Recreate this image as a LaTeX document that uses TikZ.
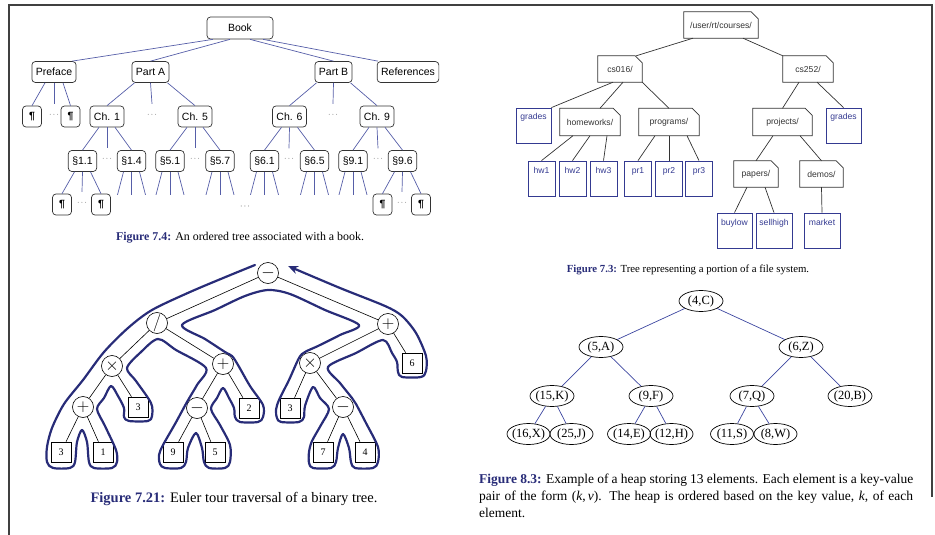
\documentclass[tikz,border=0pt]{standalone}
\usepackage{fontspec}
\setmainfont{Liberation Serif}
\setsansfont{Liberation Sans}
\usetikzlibrary{shapes.geometric,arrows.meta}

\definecolor{navy}{RGB}{40,44,120}
\definecolor{edgeblue}{RGB}{86,94,168}
\definecolor{filecol}{RGB}{52,58,145}
\definecolor{heapblue}{RGB}{60,70,160}

\newcommand{\figtag}[1]{{\bfseries\color{navy}Figure~#1:}}

\tikzset{
  bbox/.style={draw=black!80, rounded corners=3.5pt, line width=0.7pt, minimum height=21pt,
    inner xsep=4pt, font=\fontsize{10.5}{12}\sffamily},
  pil/.style={bbox, minimum width=19pt, font=\fontsize{10.5}{12}\sffamily\bfseries},
  ddots/.style={inner sep=0pt, minimum height=21pt, font=\fontsize{7}{8}\selectfont},
  bedge/.style={edgeblue, line width=0.7pt},
  dirbox/.style={minimum height=26pt, inner xsep=4pt, font=\fontsize{8.6}{10}\sffamily, text=black!80},
  filebox/.style={draw=filecol, line width=0.8pt, text=filecol, font=\fontsize{8.6}{10}\sffamily,
    minimum width=27pt, inner xsep=1pt, inner ysep=3pt, text height=9pt, text depth=20pt},
  fsedge/.style={black!80, line width=0.7pt},
  op/.style={circle, draw, line width=0.6pt, minimum size=21pt, inner sep=0pt, font=\fontsize{16}{18}\selectfont},
  leaf/.style={draw, line width=0.6pt, minimum size=20pt, inner sep=0pt, font=\fontsize{10}{12}\selectfont},
  tedge/.style={line width=0.6pt},
  tour/.style={navy, line width=2.2pt, line join=round, line cap=round},
  hp/.style={ellipse, draw, line width=0.7pt, minimum width=44pt, minimum height=21pt, inner sep=-2pt,
    font=\fontsize{12.5}{14}\selectfont},
  hedge/.style={heapblue, line width=0.7pt},
  caption/.style={inner sep=0pt, anchor=base}
}

\begin{document}
\begin{tikzpicture}[x=1pt,y=-1pt]
\useasboundingbox (0,0) rectangle (935,535);

% frame
\draw[line width=1.3pt, black!75] (9,535) -- (9,5) -- (932,5) -- (932,497);

% ordered tree of a book
\node[bbox, minimum width=66pt, minimum height=22pt] (book) at (240,28) {Book};
\node[bbox] (pref) at (54,72) {Preface};
\node[bbox] (pa) at (150.5,72) {Part A};
\node[bbox] (pb) at (333.5,72) {Part B};
\node[bbox] (refs) at (408,72) {References};

\node[pil] (p1) at (32,116.5) {¶};
\node[ddots] (dp) at (54,114.5) {$\cdots$};
\node[pil] (p2) at (70.5,116.5) {¶};
\node[bbox] (c1) at (107,116.5) {Ch. 1};
\node[ddots] (da) at (152,114.5) {$\cdots$};
\node[bbox] (c5) at (195,116.5) {Ch. 5};
\node[bbox] (c6) at (289.5,116.5) {Ch. 6};
\node[ddots] (db) at (333,114.5) {$\cdots$};
\node[bbox] (c9) at (377,116.5) {Ch. 9};

\node[bbox] (s11) at (82.5,161) {§1.1};
\node[ddots] (d1) at (107,159) {$\cdots$};
\node[bbox] (s14) at (131.5,161) {§1.4};
\node[bbox] (s51) at (170,161) {§5.1};
\node[ddots] (d5) at (195,159) {$\cdots$};
\node[bbox] (s57) at (220,161) {§5.7};
\node[bbox] (s61) at (264.5,161) {§6.1};
\node[ddots] (d6) at (289,159) {$\cdots$};
\node[bbox] (s65) at (314.5,161) {§6.5};
\node[bbox] (s91) at (353,161) {§9.1};
\node[ddots] (d9) at (378,159) {$\cdots$};
\node[bbox] (s96) at (402.5,161) {§9.6};

\node[pil] (q1) at (62,204.5) {¶};
\node[ddots] (dq1) at (82,202.5) {$\cdots$};
\node[pil] (q2) at (101,204.5) {¶};
\node[pil] (q3) at (382.5,204.5) {¶};
\node[ddots] (dq2) at (402,202.5) {$\cdots$};
\node[pil] (q4) at (421,204.5) {¶};
\node[ddots, font=\fontsize{8}{9}\selectfont] (dbig) at (245,207) {$\cdots$};

\draw[bedge] ([xshift=-27pt]book.south) -- ([xshift=18pt]pref.north);
\draw[bedge] ([xshift=-10pt]book.south) -- (pa.north);
\draw[bedge] ([xshift=10pt]book.south) -- (pb.north);
\draw[bedge] ([xshift=23pt]book.south) -- ([xshift=-30pt]refs.north);

\draw[bedge] ([xshift=-9pt]pref.south) -- (p1.north);
\draw[bedge] (pref.south) -- (dp.north);
\draw[bedge] ([xshift=9pt]pref.south) -- (p2.north);
\draw[bedge] ([xshift=-16pt]pa.south) -- (c1.north);
\draw[bedge] (pa.south) -- (da.north);
\draw[bedge] ([xshift=17pt]pa.south) -- (c5.north);
\draw[bedge] ([xshift=-17pt]pb.south) -- (c6.north);
\draw[bedge] (pb.south) -- (db.north);
\draw[bedge] ([xshift=17pt]pb.south) -- (c9.north);

\foreach \a/\l/\m/\r in {c1/s11/d1/s14, c5/s51/d5/s57, c6/s61/d6/s65, c9/s91/d9/s96, s11/q1/dq1/q2, s96/q3/dq2/q4}{
  \draw[bedge] ([xshift=-8pt]\a.south) -- (\l.north);
  \draw[bedge] (\a.south) -- (\m.north);
  \draw[bedge] ([xshift=8pt]\a.south) -- (\r.north);
}
\foreach \n in {s14,s51,s57,s61,s65,s91}{
  \draw[bedge] ([xshift=-8pt]\n.south) -- ++(-6,23);
  \draw[bedge] (\n.south) -- ++(0,23);
  \draw[bedge] ([xshift=8pt]\n.south) -- ++(6,23);
}

\node[caption] (cap74) at (240,240) {\fontsize{11.9}{14}\selectfont\figtag{7.4} An ordered tree associated with a book.};

% file system tree
\node[dirbox, minimum width=74pt] (crs) at (721,25) {/user/rt/courses/};
\node[dirbox, minimum width=44pt] (c016) at (620,69) {cs016/};
\node[dirbox, minimum width=50pt] (c252) at (808,69) {cs252/};
\node[dirbox, minimum width=60pt, minimum height=27pt] (hmw) at (590,122) {homeworks/};
\node[dirbox, minimum width=60pt, minimum height=27pt] (prg) at (669,122) {programs/};
\node[dirbox, minimum width=59pt, minimum height=27pt] (prj) at (782.5,122) {projects/};
\node[dirbox, minimum width=44pt] (pap) at (756,174) {papers/};
\node[dirbox, minimum width=43pt] (dem) at (821.5,174) {demos/};
\foreach \n in {crs,c016,c252,hmw,prg,prj,pap,dem}
  \draw[black!80, line width=0.8pt] (\n.south west) -- (\n.north west) -- ([xshift=-7pt]\n.north east)
    -- ([yshift=-7pt]\n.north east) -- (\n.south east) -- cycle;

\node[filebox, minimum width=35pt] (grl) at (533.5,125.5) {grades};
\node[filebox, minimum width=35pt] (grr) at (843.5,125.5) {grades};
\node[filebox] (hw1) at (541.5,178.5) {hw1};
\node[filebox] (hw2) at (572.5,178.5) {hw2};
\node[filebox] (hw3) at (603.5,178.5) {hw3};
\node[filebox] (pr1) at (638,178.5) {pr1};
\node[filebox] (pr2) at (669,178.5) {pr2};
\node[filebox] (pr3) at (699,178.5) {pr3};
\node[filebox, minimum width=35pt] (buy) at (734.5,230.5) {buylow};
\node[filebox, minimum width=36pt] (sel) at (774,230.5) {sellhigh};
\node[filebox, minimum width=36pt] (mkt) at (822,230.5) {market};

\draw[fsedge] ([xshift=-28pt]crs.south) -- ([xshift=-6pt]c016.north east);
\draw[fsedge] ([xshift=22pt]crs.south) -- (c252.north west);
\draw[fsedge] ([xshift=-7pt]c016.south) -- (grl.north east);
\draw[fsedge] ([xshift=3pt]c016.south) -- ([xshift=10pt]hmw.north);
\draw[fsedge] (c016.south east) -- (prg.north);
\draw[fsedge] ([xshift=-9pt]c252.south) -- (prj.north);
\draw[fsedge] ([xshift=9pt]c252.south) -- (grr.north);
\draw[fsedge] ([xshift=-17pt]hmw.south) -- (hw1.north);
\draw[fsedge] (hmw.south) -- (hw2.north);
\draw[fsedge] ([xshift=17pt]hmw.south) -- (hw3.north);
\draw[fsedge] ([xshift=-14pt]prg.south) -- (pr1.north);
\draw[fsedge] (prg.south) -- (pr2.north);
\draw[fsedge] ([xshift=18pt]prg.south) -- (pr3.north);
\draw[fsedge] ([xshift=-9.5pt]prj.south) -- (pap.north);
\draw[fsedge] ([xshift=17.5pt]prj.south) -- (dem.north);
\draw[fsedge] ([xshift=-9pt]pap.south) -- (buy.north);
\draw[fsedge] ([xshift=9pt]pap.south) -- (sel.north);
\draw[fsedge] (dem.south) -- (mkt.north);

\node[caption] (cap73) at (688,272.5) {\fontsize{10.8}{13}\selectfont\figtag{7.3} Tree representing a portion of a file system.};

% Euler tour of an expression tree
\node[op] (r) at (268,273) {$-$};
\node[op] (dv) at (157,323) {$/$};
\node[op] (pl) at (388,324) {$+$};
\node[op] (m1) at (112,366) {$\times$};
\node[op] (pl2) at (223,364) {$+$};
\node[op] (m2) at (310,363) {$\times$};
\node[leaf] (b6) at (412,363) {6};
\node[op] (pl3) at (83,407) {$+$};
\node[leaf] (b3a) at (138,407) {3};
\node[op] (mi1) at (197,408) {$-$};
\node[leaf] (b2) at (249,408) {2};
\node[leaf] (b3b) at (290,408) {3};
\node[op] (mi2) at (343,407) {$-$};
\node[leaf] (l3) at (61,452) {3};
\node[leaf] (l1) at (103,452) {1};
\node[leaf] (l9) at (173,452) {9};
\node[leaf] (l5) at (215,452) {5};
\node[leaf] (l7) at (323,452) {7};
\node[leaf] (l4) at (365,452) {4};
\foreach \a/\b in {r/dv, r/pl, dv/m1, dv/pl2, m1/pl3, m1/b3a, pl3/l3, pl3/l1, pl2/mi1, pl2/b2,
  mi1/l9, mi1/l5, pl/m2, pl/b6, m2/b3b, m2/mi2, mi2/l7, mi2/l4}
  \draw[tedge] (\a) -- (\b);

\draw[tour, -{Stealth[length=10pt,width=8pt]}] plot[smooth, tension=0.5] coordinates {
  (255,265) (228,276) (190,292) (152,310) (128,328) (104,352) (83,380) (64,404) (52,428)
  (47,447) (47,462) (53,468) (70,468) (75,462) (77,442) (82,430) (87,442) (89,462) (94,468)
  (112,468) (117,462) (116,450) (105,426) (97,409) (104,398) (111,386) (118,396) (124,408)
  (124,417) (129,421) (148,421) (152,416) (151,403) (136,381) (127,368) (141,352) (158,339)
  (176,350) (206,368) (197,385) (187,402) (175,424) (163,445) (159,455) (160,464) (165,468)
  (181,468) (186,462) (188,448) (196,433) (202,448) (204,462) (209,468) (225,468) (230,462)
  (230,445) (220,425) (211,409) (217,398) (223,388) (229,398) (234,408) (235,417) (240,422)
  (258,422) (263,417) (263,405) (250,386) (238,365) (232,356) (225,352) (205,339) (182,325)
  (215,310) (245,296) (268,290) (290,294) (325,310) (359,325) (340,335) (318,346) (305,352)
  (299,358) (289,380) (279,400) (276,410) (277,418) (281,422) (299,422) (304,417) (305,406)
  (313,387) (320,398) (329,409) (321,425) (312,441) (309,452) (309,463) (313,468) (331,468)
  (336,462) (338,448) (343,434) (349,448) (351,462) (355,468) (373,468) (378,462) (378,447)
  (366,423) (356,404) (352,398) (340,383) (328,367) (356,353) (383,340) (392,353) (397,362)
  (398,372) (402,377) (421,377) (426,371) (426,356) (416,333) (402,316) (385,306) (340,288)
  (288,266)};

\node[caption] (cap721) at (234,502) {\fontsize{14.5}{17}\selectfont\figtag{7.21} Euler tour traversal of a binary tree.};

% heap
\node[hp] (h4C) at (701,301) {(4,C)};
\node[hp] (h5A) at (601,347) {(5,A)};
\node[hp] (h6Z) at (801,347) {(6,Z)};
\node[hp] (h15K) at (552,396) {(15,K)};
\node[hp] (h9F) at (651,396) {(9,F)};
\node[hp] (h7Q) at (752,396) {(7,Q)};
\node[hp] (h20B) at (850,396) {(20,B)};
\node[hp, minimum width=43pt] (h16X) at (528.5,434) {(16,X)};
\node[hp, minimum width=43pt] (h25J) at (571.5,434) {(25,J)};
\node[hp, minimum width=43pt] (h14E) at (629,434) {(14,E)};
\node[hp, minimum width=43pt] (h12H) at (671.5,434) {(12,H)};
\node[hp, minimum width=43pt] (h11S) at (732,434) {(11,S)};
\node[hp, minimum width=43pt] (h8W) at (775.5,434) {(8,W)};
\foreach \a/\b in {h4C/h5A, h4C/h6Z, h5A/h15K, h5A/h9F, h6Z/h7Q, h6Z/h20B, h15K/h16X, h15K/h25J,
  h9F/h14E, h9F/h12H, h7Q/h11S, h7Q/h8W}
  \draw[hedge] (\a) -- (\b);

\node[inner sep=0pt, anchor=north west, text width=434pt, align=justify,
  font=\fontsize{13.5}{17}\selectfont] (cap83) at (479,473.5)
  {\figtag{8.3} Example of a heap storing 13 elements. Each element is a key-value\linebreak
   pair of the form (\textit{k},\,\textit{v}). The heap is ordered based on the key value, \textit{k}, of each\linebreak
   element.};

\end{tikzpicture}
\end{document}
